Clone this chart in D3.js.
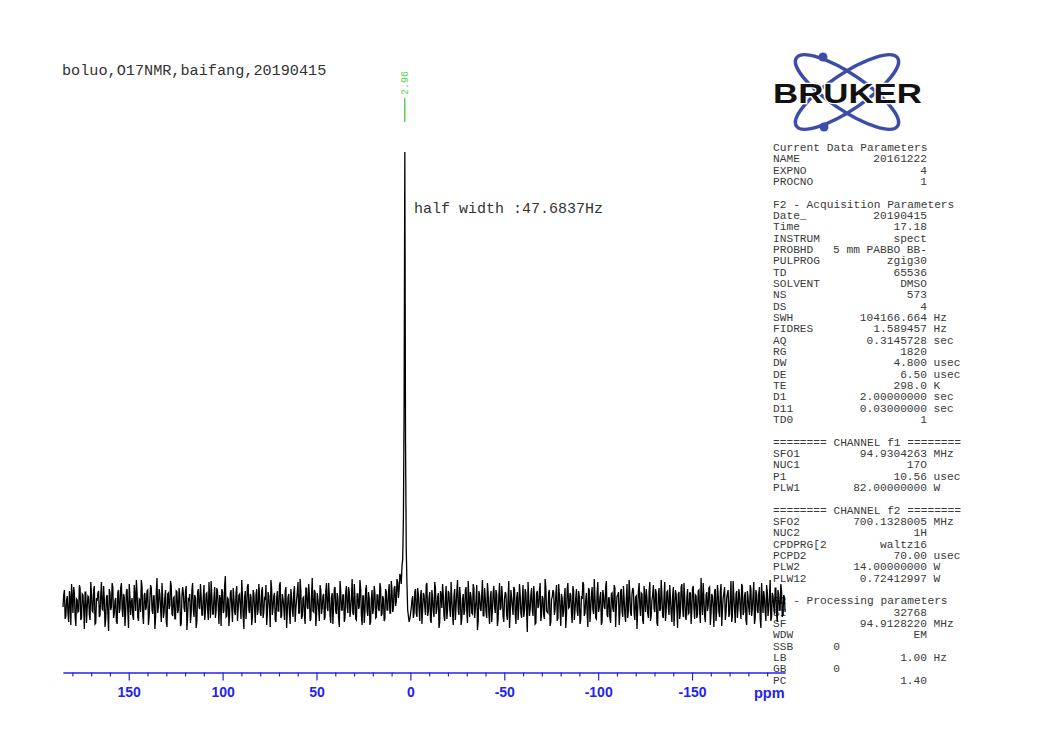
<!DOCTYPE html>
<html>
<head>
<meta charset="utf-8">
<script src="https://cdn.jsdelivr.net/npm/d3@7"></script>
<style>
  html, body { margin: 0; padding: 0; background: #fff; }
  svg { display: block; }
</style>
</head>
<body>
<script>
// ---------------- DATA ----------------
const titleText = "boluo,O17NMR,baifang,20190415";
const halfWidthText = "half width :47.6837Hz";
const peakPpm = 2.96;
const peakLabel = "2.96";
const peakHeight = 453;
const pointStep = 0.7585;

// A samples, left of the peak (from 185 ppm towards the peak)
const noiseLeft = [
  -3, 14, -12, 8, -18, 6, 20, -9, 11, -22, 4, -7, 16, -14, 9, -25, 12, -4, 7, -16,
  10, -8, 18, -19, 3, 13, -11, 22, -6, 5, -15, 9, -27, 11, -3, 17, -10, 6, -20, 14,
  -5, 21, -13, 7, -9, 15, -24, 8, 2, -12, 19, -7, 12, -17, 4, 24, -11, 9, -6, 13,
  -21, 5, 16, -10, 8, -14, 26, -3, 10, -18, 6, -8, 14, -23, 11, -2, 18, -12, 7, -15,
  12, -6, 9, -20, 17, -4, 13, -26, 5, 10, -9, 21, -13, 6, -17, 15, -5, 8, -11, 19,
  -8, 11, -16, 4, 23, -10, 7, -14, 16, -3, 9, -22, 12, -7, 28, -12, 5, -9, 14, -18,
  6, -11, 18, -5, 10, -15, 8, -25, 13, -2, 20, -9, 7, -13, 11, -19, 15, -6, 9, -12,
  17, -8, 5, -21, 12, -4, 24, -11, 8, -16, 6, -7, 19, -14, 10, -3, 13, -24, 7, -10,
  15, -6, 11, -18, 4, 22, -9, 13, -12, 7, -20, 16, -5, 9, -15, 26, -8, 12, -11, 5,
  -17, 14, -4, 10, -13, 21, -7, 8, -19, 11, -2, 17, -10, 6, -23, 13, -6, 9, -14, 18,
  -9, 12, -5, 25, -11, 7, -16, 10, -3, 15, -21, 8, -8, 19, -12, 6, -18, 14, -4, 11,
  -13, 9, -7, 16, -10, 5, -15, 12, -6, 20, -9, 14, -4, 18, 2, 22, 14, 28, 38, 85
];
// B samples, left of the peak (half a step after each A sample)
const noiseLeftB = [
  9, -15, 4, -10, 13, -21, 7, 17, -12, 5, -8, 19, -16, 10, -4, 12, -19, 8, -11, 22,
  -7, 14, -20, 6, 11, -13, 9, -5, 18, -23, 7, -10, 15, -6, 21, -14, 3, -17, 12, -9,
  16, -4, 10, -22, 13, -7, 20, -11, 6, -16, 9, 24, -13, 5, -8, 17, -20, 11, -3, 14,
  -12, 19, -6, 8, -25, 12, -9, 15, -4, 21, -14, 7, -18, 10, -5, 23, -10, 6, -15, 13,
  -9, 16, -22, 7, 11, -8, 18, -13, 4, -19, 14, -6, 9, -24, 12, -3, 20, -11, 7, -16,
  10, -5, 22, -14, 8, -10, 17, -7, 13, -20, 5, 15, -9, 19, -13, 6, -22, 11, -4, 16,
  -8, 12, -17, 9, -3, 24, -12, 7, -15, 18, -6, 10, -21, 14, -5, 9, -11, 20, -9, 13,
  -14, 6, 19, -10, 8, -23, 15, -4, 11, -18, 13, -7, 22, -12, 5, -16, 17, -8, 10, -20,
  7, -13, 18, -5, 12, -9, 25, -15, 6, -11, 16, -3, 20, -17, 9, -7, 14, -22, 11, -6,
  19, -10, 8, -16, 13, -4, 21, -12, 7, -20, 15, -8, 11, -14, 23, -6, 9, -18, 12, -3,
  17, -13, 6, -9, 20, -15, 10, -5, 24, -11, 8, -19, 14, -7, 12, -21, 5, -10, 18, -14,
  9, -5, 21, -12, 8, -17, 15, -6, 11, -9, 23, -8, 16, -2, 25, 6, 30, 20, 45, 200
];

// A samples, right of the peak (from the peak down to -199.5 ppm)
const noiseRight = [
  55, -6, -18, -10, 4, -14, 12, -9, 16, -5, 8, -20, 11, -3, 19, -12, 6, -16, 14, -8,
  22, -10, 7, -24, 13, -4, 9, -17, 18, -6, 11, -13, 5, -21, 15, -2, 24, -11, 8, -15,
  10, -7, 17, -19, 6, 12, -9, 20, -14, 4, -26, 13, -5, 9, -12, 16, -8, 21, -10, 7,
  -18, 11, -3, 14, -22, 8, -6, 18, -13, 5, 10, -16, 23, -9, 6, -11, 15, -20, 12, -4,
  9, -14, 19, -7, 11, -28, 7, -5, 16, -12, 8, -19, 13, -2, 21, -10, 6, -15, 17, -8,
  12, -22, 5, 14, -11, 9, -17, 20, -6, 10, -13, 7, -24, 15, -4, 11, -9, 18, -16, 6,
  -7, 13, -20, 8, 22, -12, 4, -10, 16, -18, 9, -5, 25, -14, 11, -8, 7, -21, 14, -3,
  17, -11, 6, -15, 10, -4, 19, -23, 8, 12, -9, 15, -13, 5, -18, 20, -6, 9, -12, 16,
  -10, 7, -25, 13, -3, 11, -16, 18, -8, 6, -14, 22, -11, 9, -5, 15, -19, 10, -7, 24,
  -12, 8, -17, 12, -4, 19, -9, 7, -22, 14, -6, 10, -15, 17, -3, 21, -13, 6, -10, 11,
  -20, 16, -5, 9, -14, 13, -8, 26, -11, 5, -18, 12, -2, 17, -9, 8, -23, 15, -6, 10,
  -13, 20, -7, 11, -16, 6, 14, -10, 23, -12, 8, -19, 13, -4, 9, -15, 18, -8, 12, -21,
  7, -11, 15, -5, 22, -14, 10, -9, 17, -24, 6, 13, -7, 19, -12, 8, -17, 11, -3, 16,
  -10, 14, -6, 20, -13, 9, -8
];
// B samples, right of the peak (half a step before each A sample)
const noiseRightB = [
  160, 20, -12, -15, -4, 8, -9, 15, -13, 10, -17, 14, -6, 9, -11, 21, -8, 12, -19, 6,
  -13, 16, -5, 11, -18, 9, 20, -12, 7, -15, 13, -4, 22, -10, 8, -16, 12, -6, 17, -21,
  5, -11, 14, -8, 23, -13, 7, -10, 16, -5, 19, -17, 9, -7, 24, -12, 6, -14, 11, -20,
  13, -6, 18, -9, 10, -15, 21, -4, 8, -18, 12, -11, 7, -24, 14, -3, 17, -9, 6, -16,
  20, -10, 5, -13, 15, -8, 22, -12, 9, -6, 18, -20, 11, -4, 13, -17, 8, -11, 25, -7,
  -9, 14, -18, 7, 12, -5, 19, -14, 10, -22, 6, -8, 16, -11, 21, -3, 9, -19, 13, -6,
  15, -12, 8, -16, 5, 20, -9, 11, -23, 14, -6, 17, -10, 7, -15, 22, -4, 12, -18, 9,
  -5, 23, -13, 6, -19, 11, -8, 16, -4, 9, -21, 13, -7, 18, -11, 5, -14, 24, -9, 10,
  14, -16, 8, -6, 21, -12, 10, -20, 6, 15, -9, 12, -17, 4, 19, -8, 11, -22, 16, -5,
  9, -14, 22, -7, 13, -11, 6, -18, 17, -3, 10, -24, 12, -8, 20, -13, 7, -16, 15, -9,
  11, -6, 18, -15, 8, -10, 14, -19, 5, 21, -12, 9, -7, 16, -21, 10, -4, 13, -17, 19,
  -8, 12, -22, 6, 17, -9, 11, -13, 7, -18, 23, -5, 10, -14, 15, -6, 20, -11, 8, -16,
  13, -4, 19, -12, 9, -20, 14, -7, 11, -15, 21, -9, 6, -17, 12, -5, 24, -13, 8, -10,
  16, -18, 9, -6, 13, -11, 7
];

const majorTicks = [150, 100, 50, 0, -50, -100, -150];
const minorTicks = [180, 170, 160, 140, 130, 120, 110, 90, 80, 70, 60, 40, 30, 20, 10,
  -10, -20, -30, -40, -60, -70, -80, -90, -110, -120, -130, -140, -160, -170, -180, -190];
const axisUnit = "ppm";

// parameter listing: [label, value, unit, valueColumnMode]
const paramRows = [
  ["Current Data Parameters"],
  ["NAME", "20161222", ""],
  ["EXPNO", "4", ""],
  ["PROCNO", "1", ""],
  [],
  ["F2 - Acquisition Parameters"],
  ["Date_", "20190415", ""],
  ["Time", "17.18", ""],
  ["INSTRUM", "spect", ""],
  ["PROBHD", "5 mm PABBO BB-", ""],
  ["PULPROG", "zgig30", ""],
  ["TD", "65536", ""],
  ["SOLVENT", "DMSO", ""],
  ["NS", "573", ""],
  ["DS", "4", ""],
  ["SWH", "104166.664", "Hz"],
  ["FIDRES", "1.589457", "Hz"],
  ["AQ", "0.3145728", "sec"],
  ["RG", "1820", ""],
  ["DW", "4.800", "usec"],
  ["DE", "6.50", "usec"],
  ["TE", "298.0", "K"],
  ["D1", "2.00000000", "sec"],
  ["D11", "0.03000000", "sec"],
  ["TD0", "1", ""],
  [],
  ["======== CHANNEL f1 ========"],
  ["SFO1", "94.9304263", "MHz"],
  ["NUC1", "17O", ""],
  ["P1", "10.56", "usec"],
  ["PLW1", "82.00000000", "W"],
  [],
  ["======== CHANNEL f2 ========"],
  ["SFO2", "700.1328005", "MHz"],
  ["NUC2", "1H", ""],
  ["CPDPRG[2", "waltz16", ""],
  ["PCPD2", "70.00", "usec"],
  ["PLW2", "14.00000000", "W"],
  ["PLW12", "0.72412997", "W"],
  [],
  ["F2 - Processing parameters"],
  ["SI", "32768", ""],
  ["SF", "94.9128220", "MHz"],
  ["WDW", "EM", ""],
  ["SSB", "0", "", "left"],
  ["LB", "1.00", "Hz"],
  ["GB", "0", "", "left"],
  ["PC", "1.40", ""]
];

// ---------------- CHART ----------------
const W = 1056, H = 749;
const mono = "'Courier New', 'Liberation Mono', monospace";
const svg = d3.select("body").append("svg").attr("width", W).attr("height", H);
svg.append("rect").attr("width", W).attr("height", H).attr("fill", "#fff");

const x = d3.scaleLinear().domain([185, -199.5]).range([63, 785]);
const y = d3.scaleLinear().domain([0, peakHeight]).range([604, 152]);

// build spectrum points (A and B samples interleaved, ppm descending)
const spectrum = [];
const nL = noiseLeft.length;
noiseLeft.forEach((v, i) => {
  spectrum.push([peakPpm + (nL - i) * pointStep, v]);
  spectrum.push([peakPpm + (nL - i - 0.5) * pointStep, noiseLeftB[i]]);
});
spectrum.push([peakPpm, peakHeight]);
noiseRight.forEach((v, j) => {
  spectrum.push([peakPpm - (j + 0.5) * pointStep, noiseRightB[j]]);
  spectrum.push([peakPpm - (j + 1) * pointStep, v]);
});

// title
svg.append("text").attr("x", 62).attr("y", 75)
  .attr("font-family", mono).attr("font-size", 15.2).attr("fill", "#333")
  .text(titleText);

// BRUKER logo
const logo = svg.append("g");
const lc = [847, 92];
const blue = "#3b4cab";
[34, -34].forEach(a => {
  logo.append("ellipse").attr("cx", 0).attr("cy", 0).attr("rx", 61).attr("ry", 18)
    .attr("transform", `translate(${lc[0]},${lc[1]}) rotate(${a})`)
    .attr("fill", "none").attr("stroke", blue).attr("stroke-width", 3.5);
});
logo.append("circle").attr("cx", 823).attr("cy", 57).attr("r", 4.5).attr("fill", blue);
logo.append("circle").attr("cx", 824).attr("cy", 127).attr("r", 4.5).attr("fill", blue);
logo.append("text").attr("x", 773).attr("y", 103)
  .attr("font-family", "'Liberation Sans', Arial, sans-serif").attr("font-weight", "bold")
  .attr("font-size", 28).attr("textLength", 149).attr("lengthAdjust", "spacingAndGlyphs")
  .attr("fill", "#111").attr("stroke", "#fff").attr("stroke-width", 2.5)
  .attr("paint-order", "stroke")
  .text("BRUKER");

// parameter block
const pX = 773, pValEnd = 927, pUnit = 933.5, pLeftVal = 833.3, pY0 = 151, pDy = 11.33;
const pg = svg.append("g").attr("font-family", mono).attr("font-size", 11.2).attr("fill", "#3a3a3a");
paramRows.forEach((r, i) => {
  const yy = pY0 + i * pDy;
  if (r.length === 0) return;
  if (r.length === 1) {
    pg.append("text").attr("x", pX).attr("y", yy).style("white-space", "pre").text(r[0]);
    return;
  }
  pg.append("text").attr("x", pX).attr("y", yy).text(r[0]);
  if (r[3] === "left") {
    pg.append("text").attr("x", pLeftVal).attr("y", yy).text(r[1]);
  } else {
    pg.append("text").attr("x", pValEnd).attr("y", yy).attr("text-anchor", "end")
      .style("white-space", "pre").text(r[1]);
  }
  if (r[2]) pg.append("text").attr("x", pUnit).attr("y", yy).text(r[2]);
});

// half width annotation
svg.append("text").attr("x", 414).attr("y", 213)
  .attr("font-family", mono).attr("font-size", 15).attr("fill", "#333")
  .text(halfWidthText);

// peak label (green)
const px = x(peakPpm);
svg.append("line").attr("x1", px).attr("x2", px).attr("y1", 98).attr("y2", 122)
  .attr("stroke", "#2fc42f").attr("stroke-width", 1.2);
svg.append("text").attr("transform", `translate(${px + 3.5},95) rotate(-90)`)
  .attr("font-family", mono).attr("font-size", 10).attr("fill", "#5ad35a")
  .text(peakLabel);

// spectrum
const line = d3.line().x(d => x(d[0])).y(d => y(d[1]));
svg.append("path").datum(spectrum).attr("d", line)
  .attr("fill", "none").attr("stroke", "#000").attr("stroke-width", 1.3)
  .attr("stroke-linejoin", "miter");

// axis
const axisColor = "#2323f0";
const axisY = 672.5;
const gMinor = svg.append("g").attr("transform", `translate(0,${axisY})`)
  .call(d3.axisBottom(x).tickValues(minorTicks).tickSize(4).tickSizeOuter(0).tickFormat(""));
const gMajor = svg.append("g").attr("transform", `translate(0,${axisY})`)
  .call(d3.axisBottom(x).tickValues(majorTicks).tickSize(8).tickSizeOuter(0).tickFormat(d3.format("d")));
[gMinor, gMajor].forEach(g => {
  g.select(".domain").attr("stroke", axisColor).attr("stroke-width", 1.2);
  g.selectAll(".tick line").attr("stroke", axisColor).attr("stroke-width", 1.2);
});
gMajor.selectAll(".tick text")
  .attr("y", 24.5).attr("dy", 0)
  .attr("font-family", "'Liberation Sans', Arial, sans-serif")
  .attr("font-weight", "bold").attr("font-size", 14).attr("fill", axisColor)
  .text(d => d3.format("d")(d).replace("\u2212", "-"));
svg.append("text").attr("x", 754).attr("y", axisY + 25)
  .attr("font-family", "'Liberation Sans', Arial, sans-serif")
  .attr("font-weight", "bold").attr("font-size", 14.5).attr("fill", axisColor)
  .text(axisUnit);
</script>
</body>
</html>
